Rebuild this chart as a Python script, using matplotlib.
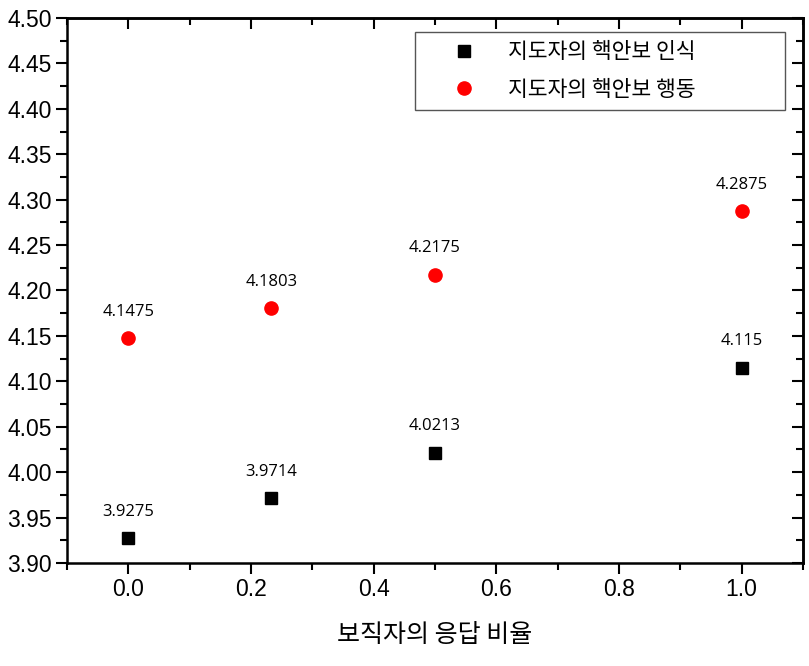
import matplotlib.pyplot as plt
from matplotlib.ticker import MultipleLocator, NullFormatter

plt.rcParams['font.family'] = ['Liberation Sans', 'Noto Sans CJK KR', 'DejaVu Sans']

x_vals = [0.0, 0.233, 0.5, 1.0]
recognition = [3.9275, 3.9714, 4.0213, 4.115]
behavior = [4.1475, 4.1803, 4.2175, 4.2875]
recognition_labels = ["3.9275", "3.9714", "4.0213", "4.115"]
behavior_labels = ["4.1475", "4.1803", "4.2175", "4.2875"]
series_names = ["지도자의 핵안보 인식", "지도자의 핵안보 행동"]


def main():
    fig = plt.figure(figsize=(8.09, 6.66), dpi=100)
    ax = fig.add_axes([0.0828, 0.1547, 0.9098, 0.8183])

    ax.plot(x_vals, recognition, linestyle="none", marker="s", markersize=8.5,
            color="black", label=series_names[0])
    ax.plot(x_vals, behavior, linestyle="none", marker="o", markersize=9.5,
            color="red", label=series_names[1])

    for x, y, txt in zip(x_vals, recognition, recognition_labels):
        ax.annotate(txt, (x, y), xytext=(0, 19), textcoords="offset points",
                    ha="center", va="center", fontsize=12,
                    family=['Open Sans', 'DejaVu Sans'])
    for x, y, txt in zip(x_vals, behavior, behavior_labels):
        ax.annotate(txt, (x, y), xytext=(0, 19), textcoords="offset points",
                    ha="center", va="center", fontsize=12,
                    family=['Open Sans', 'DejaVu Sans'])

    ax.set_xlim(-0.1, 1.1)
    ax.set_ylim(3.90, 4.50)
    ax.set_xticks([0.0, 0.2, 0.4, 0.6, 0.8, 1.0])
    ax.xaxis.set_minor_locator(MultipleLocator(0.1))
    yticks = [3.90 + 0.05 * i for i in range(13)]
    ax.set_yticks(yticks)
    ax.set_yticklabels(["{:.2f}".format(v) for v in yticks])
    ax.yaxis.set_minor_locator(MultipleLocator(0.025))

    ax.tick_params(axis="both", which="major", direction="out", length=8,
                   width=1.5, labelsize=16.5, pad=3)
    ax.tick_params(axis="both", which="minor", direction="out", length=5,
                   width=1.5)
    for spine in ax.spines.values():
        spine.set_linewidth(1.8)

    # top and right ticks point inward
    top = ax.secondary_xaxis("top")
    top.set_xticks([0.0, 0.2, 0.4, 0.6, 0.8, 1.0])
    top.xaxis.set_minor_locator(MultipleLocator(0.1))
    top.xaxis.set_major_formatter(NullFormatter())
    top.tick_params(axis="x", which="major", direction="in", length=8, width=1.5)
    top.tick_params(axis="x", which="minor", direction="in", length=5, width=1.5)
    top.spines["top"].set_linewidth(1.8)

    right = ax.secondary_yaxis("right")
    right.set_yticks(yticks)
    right.yaxis.set_minor_locator(MultipleLocator(0.025))
    right.yaxis.set_major_formatter(NullFormatter())
    right.tick_params(axis="y", which="major", direction="in", length=8, width=1.5)
    right.tick_params(axis="y", which="minor", direction="in", length=5, width=1.5)
    right.spines["right"].set_linewidth(1.8)

    ax.set_xlabel("보직자의 응답 비율", fontsize=18, labelpad=15,
                  family=['Noto Sans CJK KR', 'DejaVu Sans'])

    leg = ax.legend(loc="upper left", bbox_to_anchor=(0.473, 0.0, 0.5025, 0.974),
                    mode="expand", frameon=True, fancybox=False,
                    borderpad=0.42, handletextpad=0.19, labelspacing=0.72,
                    borderaxespad=0, handlelength=3.72,
                    prop={'family': ['Noto Sans CJK KR', 'DejaVu Sans'], 'size': 15.5})
    leg.get_frame().set_edgecolor("#555555")
    leg.get_frame().set_linewidth(1.0)
    leg.get_frame().set_alpha(1.0)

    fig.savefig("out.png", dpi=100)


if __name__ == "__main__":
    main()
